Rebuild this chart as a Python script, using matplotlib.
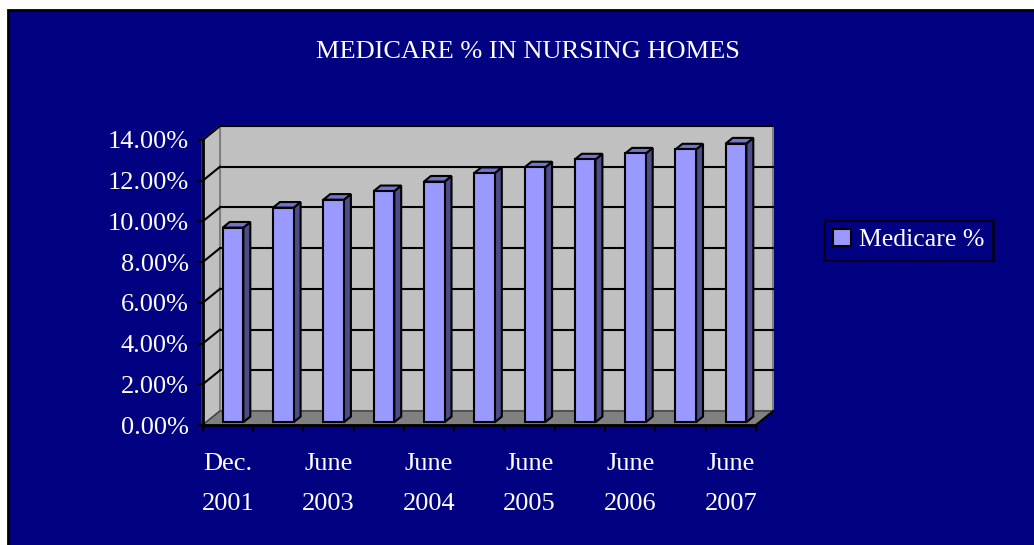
import numpy as np
import matplotlib.pyplot as plt
from matplotlib.patches import Polygon, Rectangle

# data
categories = ["Dec. 2001", "Dec. 2002", "June 2003", "Dec. 2003", "June 2004",
              "Dec. 2004", "June 2005", "Dec. 2005", "June 2006", "Dec. 2006",
              "June 2007"]
medicare = [9.56, 10.54, 10.93, 11.35, 11.82, 12.24, 12.52, 12.91, 13.20, 13.40, 13.69]
yticks = [0, 2, 4, 6, 8, 10, 12, 14]

plt.rcParams['font.family'] = ['Liberation Serif', 'DejaVu Serif']

navy = '#000080'
n = len(categories)

fig = plt.figure(figsize=(10.34, 5.45), dpi=100)
fig.patch.set_facecolor('white')
fig.patches.append(Rectangle((8 / 1034, -0.01), 1.02, 1 - 10 / 545 + 0.01,
                             transform=fig.transFigure, facecolor=navy,
                             edgecolor='black', linewidth=2, zorder=-5))

ax = fig.add_axes([202.7 / 1034, 120 / 545, 553.3 / 1034, 285 / 545])
ax.set_zorder(1)
ax.set_xlim(0, n)
ax.set_ylim(0, 14)
ax.patch.set_visible(False)
for s in ax.spines.values():
    s.set_visible(False)

# depth of the 3d box in data units
dx, dy = 0.344, 0.688

# walls and floor
ax.add_patch(Polygon([(dx, dy), (n + dx, dy), (n + dx, 14 + dy), (dx, 14 + dy)],
                     closed=True, facecolor='#C0C0C0', edgecolor='#808080',
                     linewidth=1.5, clip_on=False, zorder=1))
ax.add_patch(Polygon([(0, 0), (dx, dy), (dx, 14 + dy), (0, 14)], closed=True,
                     facecolor='#C0C0C0', edgecolor='#808080', linewidth=1.5,
                     clip_on=False, zorder=1))
ax.add_patch(Polygon([(0, 0), (n, 0), (n + dx, dy), (dx, dy)], closed=True,
                     facecolor='#808080', edgecolor='#404040', linewidth=1,
                     clip_on=False, zorder=1))

# gridlines on back and left walls
for v in yticks[1:]:
    ax.plot([dx, n + dx], [v + dy, v + dy], color='black', lw=1.5,
            clip_on=False, zorder=2)
    ax.plot([0, dx], [v, v + dy], color='black', lw=1.5, clip_on=False, zorder=2)

# bars
tf, tb = 0.2, 0.6
x = np.arange(n)
left = x + 0.33 + tf * dx
width = 0.41
base = tf * dy
bars = ax.bar(left, medicare, width, bottom=base, align='edge', color='#9999FF',
              edgecolor='black', linewidth=1.5, zorder=4, label='Medicare %',
              clip_on=False)
ddx, ddy = (tb - tf) * dx, (tb - tf) * dy
for xl, v in zip(left, medicare):
    xr = xl + width
    top = base + v
    ax.add_patch(Polygon([(xr, base), (xr + ddx, base + ddy), (xr + ddx, top + ddy),
                          (xr, top)], closed=True, facecolor='#4C4C88',
                         edgecolor='black', linewidth=1.5, zorder=3, clip_on=False))
    ax.add_patch(Polygon([(xl, top), (xr, top), (xr + ddx, top + ddy),
                          (xl + ddx, top + ddy)], closed=True, facecolor='#7474CC',
                         edgecolor='black', linewidth=1.5, zorder=3, clip_on=False))

# axis lines
ax.plot([0, 0], [0, 14], color='black', lw=2, clip_on=False, zorder=5)
ax.plot([0, n], [0, 0], color='black', lw=2, clip_on=False, zorder=5)
ax.add_line(plt.Line2D([n, n + dx], [0, dy], color='black', lw=1.5, clip_on=False,
                       zorder=5))

ax.set_yticks(yticks)
ax.set_yticklabels([f"{v:.2f}%" for v in yticks])
ax.tick_params(axis='y', colors='black', labelcolor='white', labelsize=19,
               length=4, width=1.5, pad=6)
ax.set_xticks(np.arange(n + 1))
ax.set_xticklabels([])
ax.set_xticks(x[::2] + 0.5, minor=True)
ax.set_xticklabels([c.replace(' ', '\n') for c in categories[::2]], minor=True,
                   linespacing=2.05)
ax.tick_params(axis='x', which='major', colors='black', length=5, width=1.5)
ax.tick_params(axis='x', which='minor', length=0, labelcolor='white',
               labelsize=19, pad=20)

fig.text(528 / 1034, 1 - 52 / 545, "MEDICARE % IN NURSING HOMES", color='white',
         fontsize=19, ha='center', va='center')

leg = fig.legend(handles=[bars], labels=['Medicare %'], loc='center',
                 bbox_to_anchor=(908.5 / 1034, 1 - 240 / 545), frameon=True,
                 fancybox=False, facecolor=navy, edgecolor='black', fontsize=18.5,
                 handlelength=0.7, handleheight=0.7, handletextpad=0.3,
                 borderpad=0.35, borderaxespad=0)
leg.get_frame().set_linewidth(2)
for t in leg.get_texts():
    t.set_color('white')

fig.savefig('out.png', dpi=100)
